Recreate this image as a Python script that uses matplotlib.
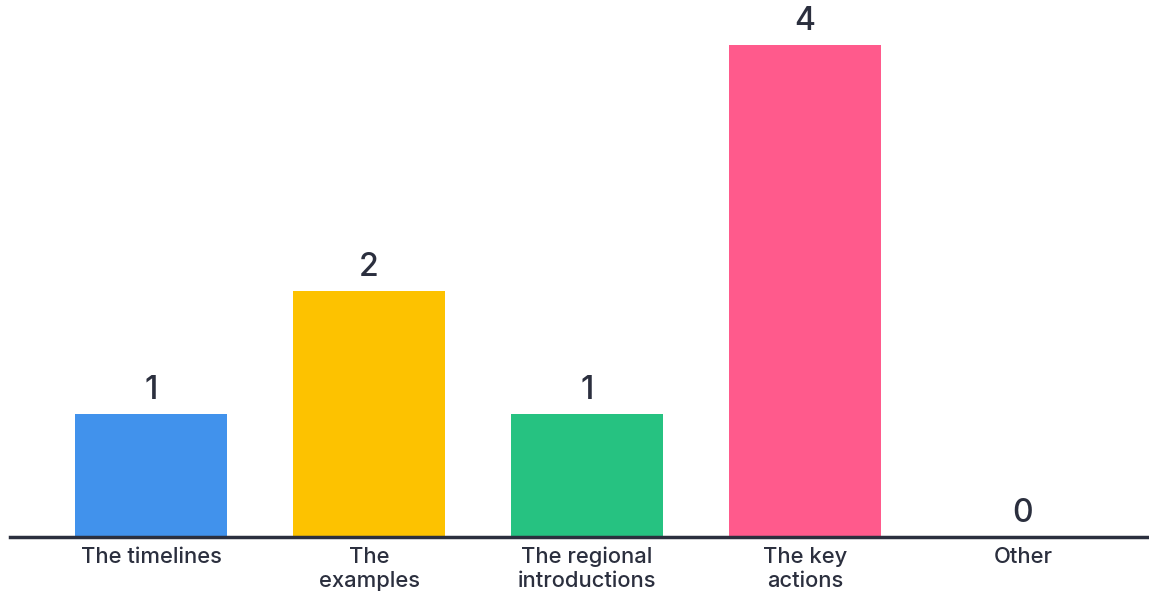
import numpy as np
import matplotlib.pyplot as plt

# chart data
categories = ["The timelines", "The\nexamples", "The regional\nintroductions", "The key\nactions", "Other"]
values = [1, 2, 1, 4, 0]
colors = ["#4192ec", "#fdc200", "#26c281", "#ff5a8c", "#ff5a8c"]

text_color = "#2b2f3e"

fig = plt.figure(figsize=(11.49, 5.95), dpi=100)
ax = fig.add_axes([10 / 1149, 58 / 595, 1139 / 1149, 537 / 595])

x = np.arange(len(categories))
ax.bar(x, values, width=0.697, color=colors)

for xi, v in zip(x, values):
    ax.annotate(str(v), (xi, v), xytext=(0, 6), textcoords="offset points",
                ha="center", va="bottom", fontsize=23, color=text_color,
                family="Inter", weight="medium")

ax.set_xlim(-0.647, 4.578)
ax.set_ylim(0, 4.366)

for s in ["top", "right", "left"]:
    ax.spines[s].set_visible(False)
ax.spines["bottom"].set_color(text_color)
ax.spines["bottom"].set_linewidth(2.5)

ax.set_yticks([])
ax.set_xticks(x)
ax.set_xticklabels(categories, fontsize=15.8, color=text_color, family="Inter",
                   weight="medium", linespacing=1.25)
ax.tick_params(axis="x", length=0, pad=7)

fig.savefig("out.png", dpi=100)
